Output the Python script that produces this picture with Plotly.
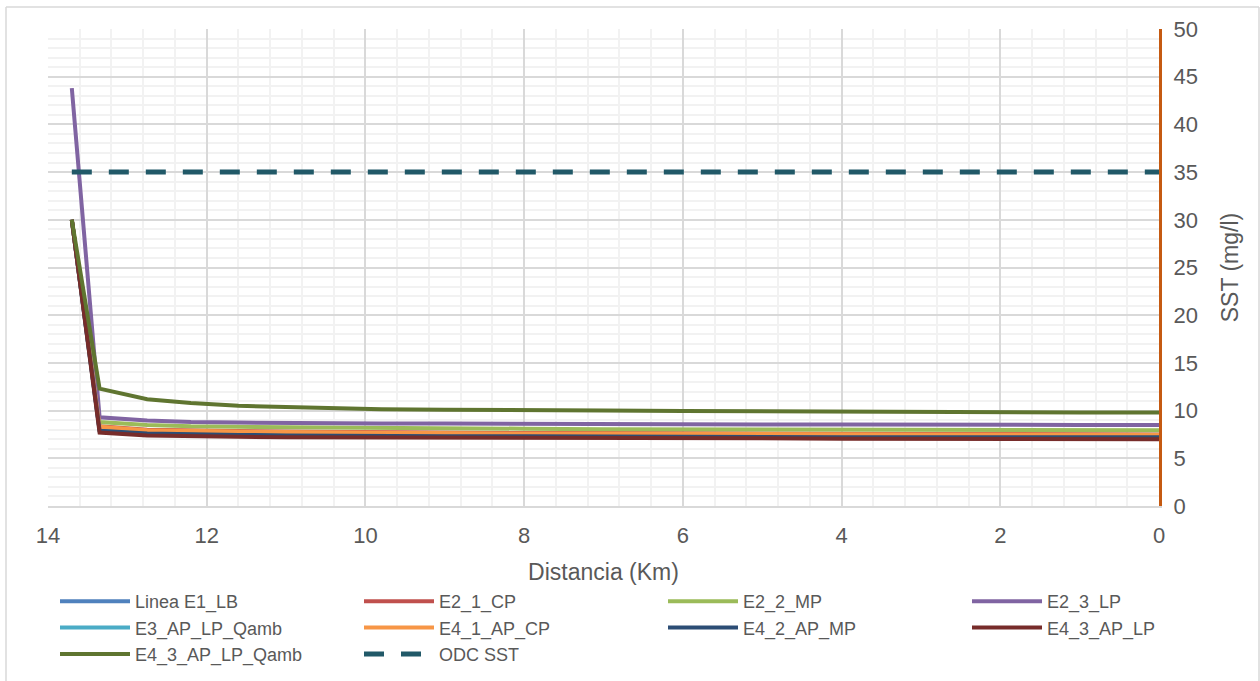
import plotly.graph_objects as go

# Distance along the river (km)
dist = [13.7, 13.35, 12.75, 12.2, 11.6, 11.0, 10.4, 9.8, 9.0, 8.0, 7.0, 6.0, 5.0, 4.0, 3.0, 2.0, 1.0, 0.0]

linea_e1_lb = [30, 8.0, 7.7, 7.6, 7.55, 7.5, 7.45, 7.45, 7.4, 7.4, 7.35, 7.35, 7.35, 7.3, 7.3, 7.3, 7.3, 7.3]
e2_1_cp = [30, 8.35, 8.0, 7.9, 7.85, 7.8, 7.75, 7.7, 7.7, 7.65, 7.65, 7.6, 7.6, 7.6, 7.55, 7.55, 7.55, 7.5]
e2_2_mp = [30, 8.8, 8.5, 8.35, 8.3, 8.25, 8.2, 8.15, 8.1, 8.1, 8.05, 8.05, 8.0, 8.0, 8.0, 7.95, 7.95, 7.95]
e2_3_lp = [43.8, 9.3, 8.95, 8.8, 8.75, 8.7, 8.7, 8.65, 8.65, 8.6, 8.6, 8.55, 8.55, 8.55, 8.5, 8.5, 8.5, 8.5]
e3_ap_lp_qamb = [30, 7.95, 7.65, 7.55, 7.5, 7.45, 7.4, 7.4, 7.35, 7.35, 7.3, 7.3, 7.3, 7.25, 7.25, 7.25, 7.25, 7.25]
e4_1_ap_cp = [30, 8.3, 7.95, 7.85, 7.8, 7.75, 7.7, 7.65, 7.65, 7.6, 7.6, 7.55, 7.55, 7.55, 7.5, 7.5, 7.5, 7.45]
e4_2_ap_mp = [30, 7.9, 7.6, 7.5, 7.45, 7.4, 7.35, 7.35, 7.3, 7.3, 7.25, 7.25, 7.25, 7.2, 7.2, 7.2, 7.2, 7.2]
e4_3_ap_lp = [30, 7.7, 7.4, 7.3, 7.25, 7.2, 7.2, 7.15, 7.15, 7.1, 7.1, 7.1, 7.1, 7.05, 7.05, 7.05, 7.0, 7.0]
e4_3_ap_lp_qamb = [30, 12.3, 11.2, 10.8, 10.5, 10.35, 10.2, 10.15, 10.1, 10.0, 10.0, 9.95, 9.9, 9.9, 9.85, 9.85, 9.8, 9.8]

odc_x = [13.7, 0.0]
odc_sst = [35, 35]

series_names = ["Linea E1_LB", "E2_1_CP", "E2_2_MP", "E2_3_LP", "E3_AP_LP_Qamb",
                "E4_1_AP_CP", "E4_2_AP_MP", "E4_3_AP_LP", "E4_3_AP_LP_Qamb"]
series_values = [linea_e1_lb, e2_1_cp, e2_2_mp, e2_3_lp, e3_ap_lp_qamb,
                 e4_1_ap_cp, e4_2_ap_mp, e4_3_ap_lp, e4_3_ap_lp_qamb]
colors = ["#4F81BD", "#C0504D", "#9BBB59", "#8064A2", "#4BACC6",
          "#F79646", "#2C4D75", "#772C2A", "#5F7530"]

fig = go.Figure()
for name, vals, col in zip(series_names, series_values, colors):
    fig.add_trace(go.Scatter(x=dist, y=vals, mode="lines", name=name,
                             line=dict(color=col, width=4)))
fig.add_trace(go.Scatter(x=odc_x, y=odc_sst, mode="lines", name="ODC SST",
                         line=dict(color="#215968", width=5, dash="20px,17px")))

font_color = "#595959"
fig.update_layout(
    width=1260, height=681,
    margin=dict(l=48, r=101, t=29, b=175, autoexpand=False),
    paper_bgcolor="white", plot_bgcolor="white",
    font=dict(family="Liberation Sans, Arial, sans-serif", color=font_color),
    xaxis=dict(range=[14, 0], dtick=2, tick0=0,
               showgrid=True, gridcolor="#D9D9D9", gridwidth=2,
               minor=dict(dtick=0.4, showgrid=True, gridcolor="#F2F2F2", gridwidth=2),
               showline=True, linecolor="#D9D9D9", linewidth=2,
               zeroline=False, ticks="", ticklabelstandoff=9,
               tickfont=dict(size=22, color=font_color),
               title=dict(text="Distancia (Km)", font=dict(size=23, color=font_color), standoff=16)),
    yaxis=dict(range=[0, 50], dtick=5, side="right",
               showgrid=True, gridcolor="#D9D9D9", gridwidth=2,
               minor=dict(dtick=1, showgrid=True, gridcolor="#F2F2F2", gridwidth=2),
               showline=True, linecolor="#C55A11", linewidth=3,
               zeroline=False, ticks="", ticklabelstandoff=7,
               tickfont=dict(size=22, color=font_color),
               title=dict(text="SST (mg/l)", font=dict(size=23, color=font_color), standoff=26)),
    legend=dict(orientation="h", x=(1271 - 48) / 1111, xanchor="right",
                y=(506 - 583) / 477, yanchor="top",
                entrywidth=219, entrywidthmode="pixels", itemwidth=70,
                font=dict(size=18, color=font_color), bgcolor="rgba(0,0,0,0)"),
    shapes=[
        dict(type="line", xref="paper", yref="paper",
             x0=(6 - 48) / 1111, x1=(6 - 48) / 1111, y0=(506 - 681) / 477, y1=(506 - 7) / 477,
             line=dict(color="#D9D9D9", width=1.5)),
        dict(type="line", xref="paper", yref="paper",
             x0=(6 - 48) / 1111, x1=(1259 - 48) / 1111, y0=(506 - 7) / 477, y1=(506 - 7) / 477,
             line=dict(color="#D9D9D9", width=1.5)),
        dict(type="line", xref="paper", yref="paper",
             x0=(1259 - 48) / 1111, x1=(1259 - 48) / 1111, y0=(506 - 681) / 477, y1=(506 - 7) / 477,
             line=dict(color="#D9D9D9", width=1.5)),
    ],
)

fig.write_html("out.html", config={"displayModeBar": False},
               post_script="document.body.style.margin='0';document.body.style.overflow='hidden';")
